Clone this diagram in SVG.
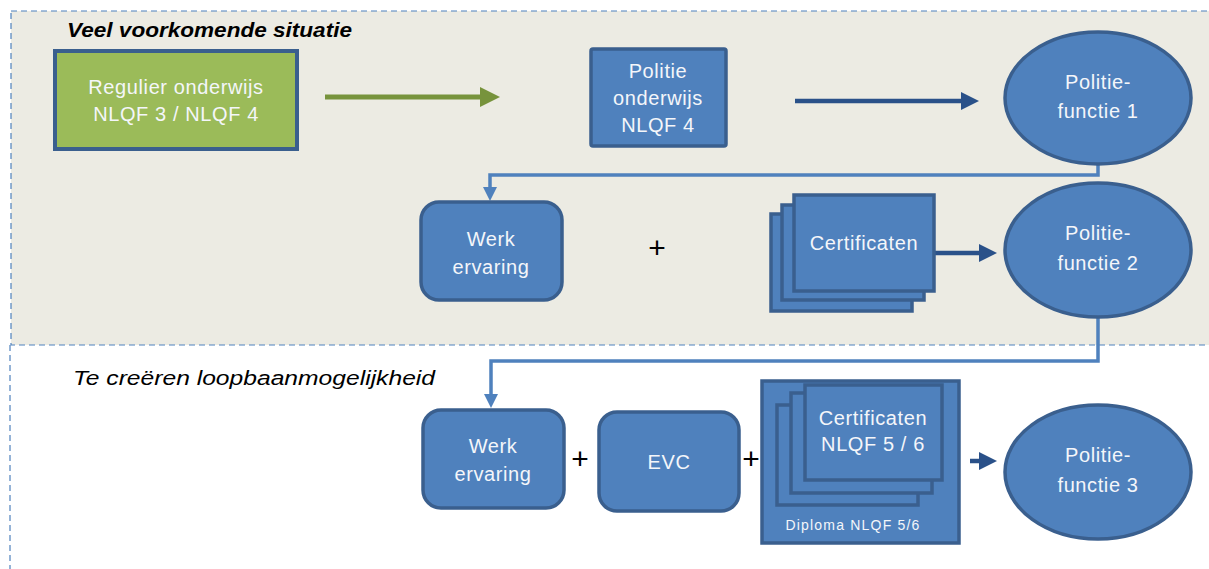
<svg xmlns="http://www.w3.org/2000/svg" width="1209" height="569" viewBox="0 0 1209 569">
<defs>
<style>
.box{fill:#4F81BD;stroke:#3A5F8E;stroke-width:3.5}
.t{font-family:"Liberation Sans",Arial,sans-serif;font-size:20px;letter-spacing:0.6px;fill:#F4F6FA;text-anchor:middle}
.plus{font-family:"Liberation Sans",Arial,sans-serif;font-size:30px;fill:#000;text-anchor:middle}
.conn{fill:none;stroke:#4F81BD;stroke-width:3.5}
.dark{fill:none;stroke:#2A5189;stroke-width:4.5}
</style>
<marker id="ah-light" viewBox="0 0 10 10" refX="5" refY="5" markerWidth="4" markerHeight="4" orient="auto" markerUnits="strokeWidth"><path d="M0,0 L10,5 L0,10 z" fill="#4F81BD"/></marker>
<marker id="ah-dark" viewBox="0 0 10 10" refX="5" refY="5" markerWidth="4" markerHeight="4" orient="auto" markerUnits="strokeWidth"><path d="M0,0 L10,5 L0,10 z" fill="#2A5189"/></marker>
<marker id="ah-green" viewBox="0 0 10 10" refX="5" refY="5" markerWidth="4" markerHeight="4" orient="auto" markerUnits="strokeWidth"><path d="M0,0 L10,5 L0,10 z" fill="#77933C"/></marker>
</defs>
<rect width="1209" height="569" fill="#FFFFFF"/>
<g id="region-top">
<rect x="11" y="11" width="1210" height="334" fill="#ECEBE3" stroke="#4F81BD" stroke-width="1.2" stroke-dasharray="6,4"/>
<text x="67" y="37" font-family="Liberation Sans,Arial,sans-serif" font-size="20" font-weight="bold" font-style="italic" fill="#000" textLength="285" lengthAdjust="spacingAndGlyphs">Veel voorkomende situatie</text>
</g>
<g id="region-bottom">
<line x1="10" y1="345" x2="10" y2="569" stroke="#4F81BD" stroke-width="1.2" stroke-dasharray="6,4"/>
<text x="73" y="385" font-family="Liberation Sans,Arial,sans-serif" font-size="20" font-style="italic" fill="#000" textLength="362" lengthAdjust="spacingAndGlyphs">Te creëren loopbaanmogelijkheid</text>
</g>
<g id="connectors">
<line x1="325" y1="97" x2="490" y2="97" stroke="#77933C" stroke-width="5" marker-end="url(#ah-green)"/>
<line class="dark" x1="795" y1="101" x2="970" y2="101" marker-end="url(#ah-dark)"/>
<polyline class="conn" points="1098,165 1098,175 490,175 490,194" marker-end="url(#ah-light)"/>
<line class="dark" x1="934" y1="253" x2="988" y2="253" stroke-width="3.5" marker-end="url(#ah-dark)"/>
<polyline class="conn" points="1098,317 1098,361 491,361 491,401" marker-end="url(#ah-light)"/>
<line class="dark" x1="970" y1="461" x2="988" y2="461" stroke-width="3.5" marker-end="url(#ah-dark)"/>
</g>
<g id="regulier">
<rect x="55" y="51" width="242" height="98" fill="#9BBB59" stroke="#3A5F8E" stroke-width="4"/>
<text class="t" x="176" y="94">Regulier onderwijs</text>
<text class="t" x="176" y="121">NLQF 3 / NLQF 4</text>
</g>
<g id="politie-onderwijs">
<rect class="box" x="591" y="49" width="135" height="97" rx="2"/>
<text class="t" x="658" y="78">Politie</text>
<text class="t" x="658" y="105">onderwijs</text>
<text class="t" x="658" y="132">NLQF 4</text>
</g>
<g id="politiefunctie1">
<ellipse class="box" cx="1098" cy="98" rx="93" ry="66"/>
<text class="t" x="1098" y="89">Politie-</text>
<text class="t" x="1098" y="118">functie 1</text>
</g>
<g id="werk1">
<rect class="box" x="421" y="202" width="141" height="98" rx="18"/>
<text class="t" x="491" y="246">Werk</text>
<text class="t" x="491" y="274">ervaring</text>
</g>
<text class="plus" x="657" y="258">+</text>
<g id="certificaten">
<rect class="box" x="771" y="214" width="141" height="97"/>
<rect class="box" x="782" y="205" width="142" height="95"/>
<rect class="box" x="794" y="195" width="140" height="96"/>
<text class="t" x="864" y="250">Certificaten</text>
</g>
<g id="politiefunctie2">
<ellipse class="box" cx="1098" cy="250" rx="93" ry="67"/>
<text class="t" x="1098" y="240">Politie-</text>
<text class="t" x="1098" y="270">functie 2</text>
</g>
<g id="werk2">
<rect class="box" x="423" y="410" width="141" height="98" rx="18"/>
<text class="t" x="493" y="453">Werk</text>
<text class="t" x="493" y="481">ervaring</text>
</g>
<text class="plus" x="580" y="469">+</text>
<g id="evc">
<rect class="box" x="599" y="412" width="140" height="99" rx="18"/>
<text class="t" x="669" y="469">EVC</text>
</g>
<text class="plus" x="751" y="469">+</text>
<g id="diploma">
<rect class="box" x="762" y="381" width="197" height="162"/>
<rect class="box" x="777" y="405" width="141" height="100"/>
<rect class="box" x="791" y="393" width="141" height="100"/>
<rect class="box" x="805" y="385" width="137" height="95"/>
<text class="t" x="873" y="425">Certificaten</text>
<text class="t" x="873" y="451">NLQF 5 / 6</text>
<text x="853" y="530" font-family="Liberation Sans,Arial,sans-serif" font-size="14" fill="#F4F6FA" text-anchor="middle" letter-spacing="1.2">Diploma NLQF 5/6</text>
</g>
<g id="politiefunctie3">
<ellipse class="box" cx="1098" cy="472" rx="93" ry="67"/>
<text class="t" x="1098" y="462">Politie-</text>
<text class="t" x="1098" y="492">functie 3</text>
</g>
</svg>
